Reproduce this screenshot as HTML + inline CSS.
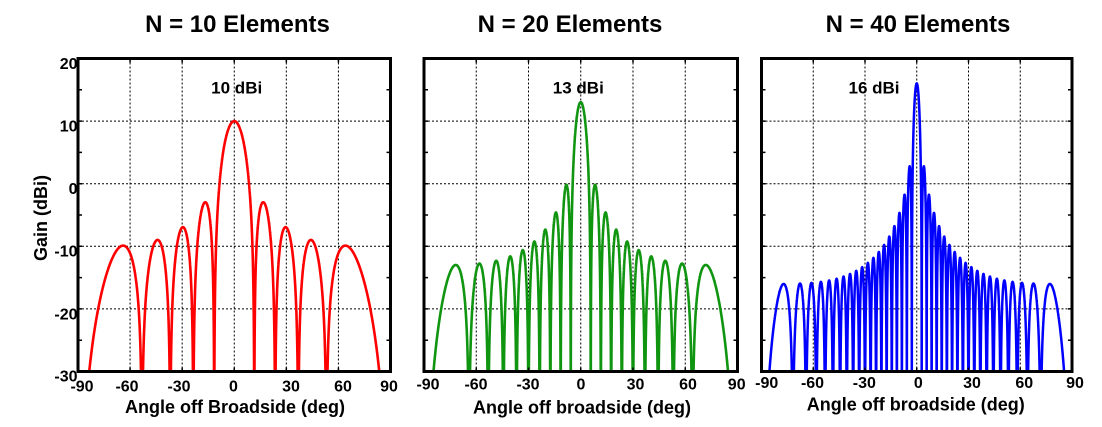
<!DOCTYPE html>
<html>
<head>
<meta charset="utf-8">
<style>
html,body{margin:0;padding:0;background:#fff;}
svg{display:block;}
text{font-family:"Liberation Sans",Arial,sans-serif;font-weight:bold;fill:#000;}
</style>
</head>
<body>
<svg id="s" width="1102" height="427" viewBox="0 0 1102 427" xmlns="http://www.w3.org/2000/svg">
<rect x="0" y="0" width="1102" height="427" fill="#fff"/>
<defs>
<clipPath id="c1"><rect x="78" y="58.5" width="312.5" height="313"/></clipPath>
<clipPath id="c2"><rect x="424" y="58.5" width="313.5" height="313"/></clipPath>
<clipPath id="c3"><rect x="761.5" y="58.5" width="310.5" height="313"/></clipPath>
</defs>
<g id="grid"></g>
<g id="curves"></g>
<g id="frames"></g>
<!-- titles -->
<text x="237.5" y="32" font-size="24" text-anchor="middle">N = 10 Elements</text>
<text x="570" y="32" font-size="24" text-anchor="middle">N = 20 Elements</text>
<text x="918" y="32" font-size="24" text-anchor="middle">N = 40 Elements</text>
<!-- annotations -->
<text x="236.7" y="93.5" font-size="17" text-anchor="middle">10 dBi</text>
<text x="578.3" y="93.5" font-size="17" text-anchor="middle">13 dBi</text>
<text x="874" y="93.5" font-size="17" text-anchor="middle">16 dBi</text>
<!-- y label -->
<text transform="translate(47,218) rotate(-90)" font-size="18" text-anchor="middle">Gain (dBi)</text>
<!-- y ticks panel1 -->
<g font-size="16" text-anchor="end">
<text x="77.5" y="69">20</text>
<text x="77.5" y="131.5">10</text>
<text x="77.5" y="194">0</text>
<text x="77.5" y="256.5">-10</text>
<text x="77.5" y="319.3">-20</text>
<text x="77.5" y="381.5">-30</text>
</g>
<!-- x ticks -->
<g font-size="16" text-anchor="middle">
<text x="82" y="391.5">-90</text>
<text x="127" y="391.5">-60</text>
<text x="179" y="391.5">-30</text>
<text x="233.5" y="391.5">0</text>
<text x="291" y="391.5">30</text>
<text x="343" y="391.5">60</text>
<text x="389" y="391.5">90</text>

<text x="428" y="389.5">-90</text>
<text x="476" y="389.5">-60</text>
<text x="528" y="389.5">-30</text>
<text x="581" y="389.5">0</text>
<text x="635.5" y="389.5">30</text>
<text x="688" y="389.5">60</text>
<text x="736.7" y="389.5">90</text>

<text x="766.7" y="388">-90</text>
<text x="812.5" y="388">-60</text>
<text x="864.3" y="388">-30</text>
<text x="918.3" y="388">0</text>
<text x="972" y="388">30</text>
<text x="1024.3" y="388">60</text>
<text x="1075" y="388">90</text>
</g>
<g font-size="18" text-anchor="middle">
<text x="235" y="413">Angle off Broadside (deg)</text>
<text x="582" y="413.3">Angle off broadside (deg)</text>
<text x="915.8" y="410.7">Angle off broadside (deg)</text>
</g>
</svg>
<script>
(function(){
  var NS="http://www.w3.org/2000/svg";
  var panels=[
    {N:10,x0:78,x1:390.5,color:"#ff0000",w:2.6,clip:"c1"},
    {N:20,x0:424,x1:737.5,color:"#109510",w:2.6,clip:"c2"},
    {N:40,x0:761.5,x1:1072,color:"#0000ff",w:2.5,clip:"c3"}
  ];
  var y0=58.5,y1=371.5;
  var grid=document.getElementById("grid"),curves=document.getElementById("curves"),frames=document.getElementById("frames");
  function el(tag,attrs,parent){var e=document.createElementNS(NS,tag);for(var k in attrs)e.setAttribute(k,attrs[k]);parent.appendChild(e);return e;}
  panels.forEach(function(p){
    var sx=(p.x1-p.x0)/180, sy=(y1-y0)/50;
    function X(t){return p.x0+(t+90)*sx;}
    function Y(g){return y0+(20-g)*sy;}
    var gd="";
    [-60,-30,0,30,60].forEach(function(t){var x=X(t).toFixed(2);gd+="M"+x+" "+y0+"L"+x+" "+y1;});
    [10,0,-10,-20].forEach(function(g){var y=Y(g).toFixed(2);gd+="M"+p.x0+" "+y+"L"+p.x1+" "+y;});
    el("path",{d:gd,stroke:"#000","stroke-width":"1","stroke-dasharray":"2,2",fill:"none"},grid);
    var N=p.N,M=N*400,d="";
    for(var i=0;i<=2*M;i++){
      var u=-1+i/M; if(u>1)u=1; if(u<-1)u=-1;
      var th=Math.asin(u)*180/Math.PI;
      var psi=Math.PI*u, s=Math.sin(psi/2), af2;
      if(Math.abs(s)<1e-12) af2=N*N; else {var n=Math.sin(N*psi/2)/s; af2=n*n;}
      var g=10*Math.log10(af2/N+1e-30);
      if(g<-31)g=-31;
      d+=(i?"L":"M")+X(th).toFixed(2)+" "+Y(g).toFixed(2);
    }
    el("path",{d:d,stroke:p.color,"stroke-width":p.w,fill:"none","stroke-linejoin":"round","clip-path":"url(#"+p.clip+")"},curves);
    el("rect",{x:p.x0,y:y0,width:(p.x1-p.x0),height:(y1-y0),fill:"none",stroke:"#000","stroke-width":"3"},frames);
    var td="";
    for(var g2=15;g2>=-25;g2-=5){var yy=Y(g2).toFixed(2);td+="M"+p.x0+" "+yy+"L"+(p.x0+4)+" "+yy+"M"+p.x1+" "+yy+"L"+(p.x1-4)+" "+yy;}
    [-60,-30,0,30,60].forEach(function(t){var x=X(t).toFixed(2);td+="M"+x+" "+y0+"L"+x+" "+(y0+4)+"M"+x+" "+y1+"L"+x+" "+(y1-4);});
    el("path",{d:td,stroke:"#000","stroke-width":"1.5",fill:"none"},frames);
  });
})();
</script>
</body>
</html>
